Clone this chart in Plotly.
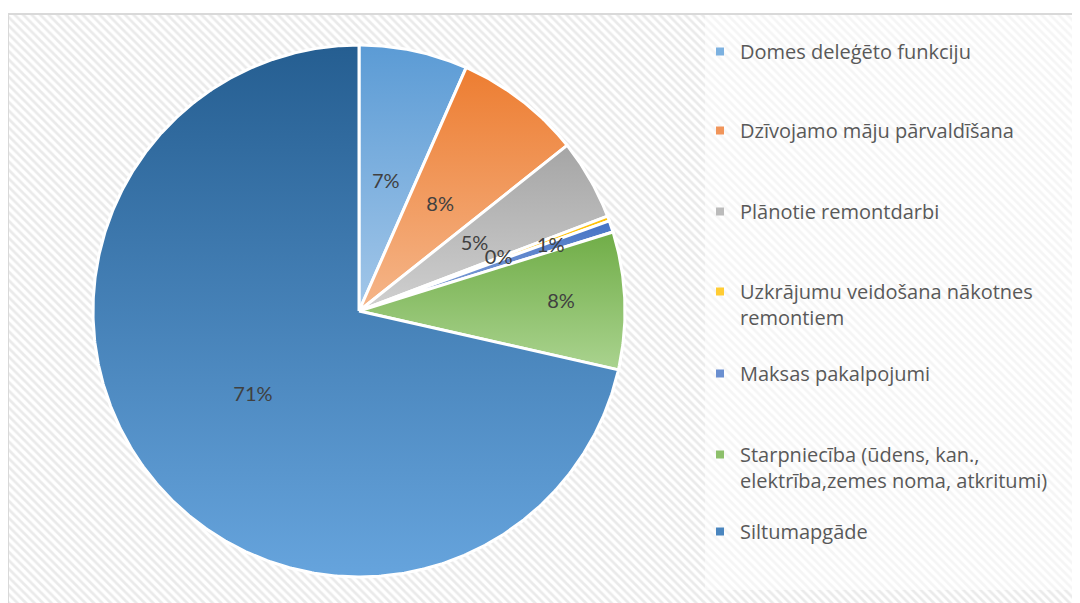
import numpy as np
import plotly.graph_objects as go

# ---- data ----
categories = [
    "Domes deleģēto funkciju",
    "Dzīvojamo māju pārvaldīšana",
    "Plānotie remontdarbi",
    "Uzkrājumu veidošana nākotnes<br>remontiem",
    "Maksas pakalpojumi",
    "Starpniecība (ūdens, kan.,<br>elektrība,zemes noma, atkritumi)",
    "Siltumapgāde",
]
shares = [6.6, 7.7, 4.9, 0.3, 0.7, 8.35, 71.45]

# ---- styles ----
dark_colors = ["#5b9bd5", "#ed7d31", "#a5a5a5", "#ffc000", "#4472c4", "#70ad47", "#255e91"]
light_colors = ["#a3c7e9", "#f5b68a", "#d0d0d0", "#ffd966", "#8faadc", "#aad38f", "#66a4dd"]
mid_colors = ["#7cb1e0", "#f1955a", "#bbbbbb", "#ffcc33", "#6a8fd0", "#8dc06b", "#4a86bf"]
label_rf = [0.49, 0.50, 0.50, 0.56, 0.76, 0.76, 0.51]
legend_line_px = [52, 131, 212, 292, 374, 455, 532]

W, H = 1080, 603
OFF = 8  # page body margin
cx, cy, R = 359, 311, 266

fig = go.Figure()

# background with diagonal hatch
fig.add_trace(go.Scatter(
    x=[8, 1095, 1095, 8, 8], y=[14, 14, 620, 620, 14],
    mode="lines", fill="toself",
    line=dict(color="#d9d9d9", width=2),
    fillcolor="white",
    fillpattern=dict(shape="\\", fgcolor="#d6d6d6", bgcolor="white", size=6, solidity=0.45),
    hoverinfo="skip", showlegend=False,
))

total = sum(shares)
cum = np.cumsum([0] + shares) / total * 360.0
for i, (name, v) in enumerate(zip(categories, shares)):
    a0, a1 = cum[i], cum[i + 1]
    n = max(3, int((a1 - a0) / 0.5) + 2)
    ang = np.radians(np.linspace(a0, a1, n))
    xs = np.concatenate([[cx], cx + R * np.sin(ang), [cx]])
    ys = np.concatenate([[cy], cy - R * np.cos(ang), [cy]])
    fig.add_trace(go.Scatter(
        x=xs, y=ys, mode="lines", fill="toself",
        line=dict(color="white", width=3),
        fillgradient=dict(type="vertical",
                          colorscale=[[0, light_colors[i]], [1, dark_colors[i]]]),
        hoverinfo="skip", showlegend=False,
    ))

# percentage labels
mids = np.radians((cum[:-1] + cum[1:]) / 2)
lx = [cx + rf * R * np.sin(m) for rf, m in zip(label_rf, mids)]
ly = [cy - rf * R * np.cos(m) for rf, m in zip(label_rf, mids)]
pct = [f"{round(v / total * 100):.0f}%" for v in shares]
fig.add_trace(go.Scatter(
    x=lx, y=ly, mode="text", text=pct,
    textfont=dict(family="Lato", size=20, color="#404040"),
    hoverinfo="skip", showlegend=False,
))

# legend entries (one legend each, to reproduce spacing)
layout_legends = {}
for i, name in enumerate(categories):
    key = "legend" if i == 0 else f"legend{i + 1}"
    fig.add_trace(go.Scatter(
        x=[None], y=[None], mode="markers", name=name,
        marker=dict(symbol="square", size=8, color=mid_colors[i]),
        legend=key, showlegend=True,
    ))
    layout_legends[key] = dict(
        x=(700 - OFF) / W, xanchor="left",
        y=1 - (legend_line_px[i] - 20 - OFF) / H, yanchor="top",
        valign="top", bgcolor="rgba(0,0,0,0)",
        font=dict(family="Open Sans", size=20, color="#595959"),
    )

fig.update_layout(
    width=W, height=H,
    margin=dict(l=0, r=0, t=0, b=0),
    paper_bgcolor="white", plot_bgcolor="white",
    xaxis=dict(range=[OFF, W + OFF], visible=False, fixedrange=True),
    yaxis=dict(range=[H + OFF, OFF], visible=False, fixedrange=True),
    shapes=[dict(type="rect", xref="x", yref="y", x0=705, x1=1095, y0=15, y1=590,
                 fillcolor="rgba(255,255,255,0.5)", line=dict(width=0), layer="above")],
    **layout_legends,
)

fig.write_html("out.html")
